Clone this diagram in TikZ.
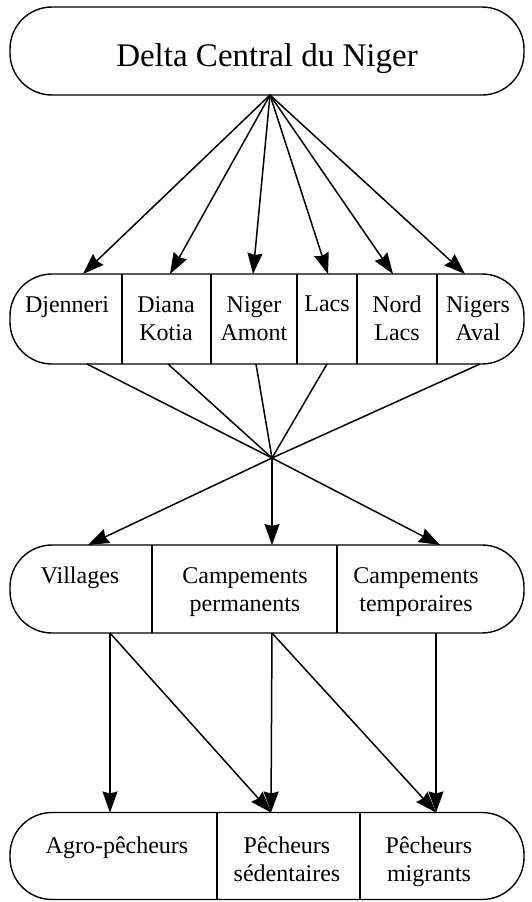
\documentclass[tikz,border=0pt]{standalone}
\usepackage{fontspec}
\setmainfont{Liberation Serif}
\usetikzlibrary{positioning, arrows.meta, calc}

\begin{document}
\begin{tikzpicture}[x=1pt, y=-1pt]
		% Define styles
		\tikzset{
			frame/.style={rectangle, draw, line width=1.4pt, rounded corners=42pt, minimum width=514pt, inner sep=0pt, outer sep=0pt},
			cell/.style={anchor=north, align=center, inner sep=0pt, font=\fontsize{24}{28}\selectfont},
			divider/.style={draw, line width=1.3pt},
			line/.style={draw, line width=1.5pt, -{Stealth[length=21pt, width=15pt, inset=2pt]}},
			spoke/.style={draw, line width=1.5pt}
		}
		\useasboundingbox (0,0) rectangle (531,902);
		
		% Frames
		\node[frame, minimum height=88pt] (delta) at (267,51) {};
		\node[frame, minimum height=90pt] (zones) at (267,319) {};
		\node[frame, minimum height=88pt] (habitat) at (267,589) {};
		\node[frame, minimum height=87pt] (peche) at (267,856) {};
		
		% Nodes
		\node[anchor=base, inner sep=0pt, font=\fontsize{33}{40}\selectfont] (title) at (267,66) {Delta Central du Niger};
		
		\node[cell] (djenneri) at (67,296) {Djenneri};
		\node[cell] (diana) at (166,296) {Diana\\Kotia};
		\node[cell] (amont) at (254,296) {Niger\\Amont};
		\node[cell] (lacs) at (327,296) {Lacs};
		\node[cell] (nord) at (397,296) {Nord\\Lacs};
		\node[cell] (aval) at (478,296) {Nigers\\Aval};
		
		\node[cell] (villages) at (80,567) {Villages};
		\node[cell] (permanents) at (245,567) {Campements\\permanents};
		\node[cell] (temporaires) at (416,567) {Campements\\temporaires};
		
		\node[cell] (agro) at (117,837) {Agro-pêcheurs};
		\node[cell] (sedentaires) at (287,837) {Pêcheurs\\sédentaires};
		\node[cell] (migrants) at (429,837) {Pêcheurs\\migrants};
		
		% Dividers
		\foreach \x in {122,211,297,357,437}
			\draw[divider] (\x,274) -- (\x,364);
		\foreach \x in {152,337}
			\draw[divider] (\x,545) -- (\x,633);
		\foreach \x in {217,360}
			\draw[divider] (\x,813) -- (\x,900);
		
		\coordinate (hub) at (272,458);
		
		% Arrows
		\draw[line] ([xshift=3pt]delta.south) -- ([xshift=16pt]djenneri |- zones.north);
		\draw[line] ([xshift=3pt]delta.south) -- ([xshift=4pt]diana |- zones.north);
		\draw[line] ([xshift=3pt]delta.south) -- ([xshift=-1pt]amont |- zones.north);
		\draw[line] ([xshift=3pt]delta.south) -- ([xshift=1pt]lacs |- zones.north);
		\draw[line] ([xshift=3pt]delta.south) -- ([xshift=-4pt]nord |- zones.north);
		\draw[line] ([xshift=3pt]delta.south) -- ([xshift=-13pt]aval |- zones.north);
		
		\draw[spoke] ([xshift=20pt]djenneri |- zones.south) -- (hub);
		\draw[spoke] ([xshift=2pt]diana |- zones.south) -- (hub);
		\draw[spoke] ([xshift=2pt]amont |- zones.south) -- (hub);
		\draw[spoke] (lacs |- zones.south) -- (hub);
		\draw[spoke] ([xshift=2pt]aval |- zones.south) -- (hub);
		
		\draw[line] (hub) -- ([xshift=8pt]villages |- habitat.north);
		\draw[line] (hub) -- (hub |- habitat.north);
		\draw[line] (hub) -- ([xshift=24pt]temporaires |- habitat.north);
		
		\draw[line] ([xshift=30pt]villages |- habitat.south) -- ([xshift=-7pt]agro |- peche.north);
		\draw[line] ([xshift=30pt]villages |- habitat.south) -- ([xshift=-16pt]sedentaires |- peche.north);
		\draw[line] ([xshift=27pt]permanents |- habitat.south) -- ([xshift=-16pt]sedentaires |- peche.north);
		\draw[line] ([xshift=27pt]permanents |- habitat.south) -- ([xshift=7pt]migrants |- peche.north);
		\draw[line] ([xshift=20pt]temporaires |- habitat.south) -- ([xshift=7pt]migrants |- peche.north);
	\end{tikzpicture}
\end{document}
